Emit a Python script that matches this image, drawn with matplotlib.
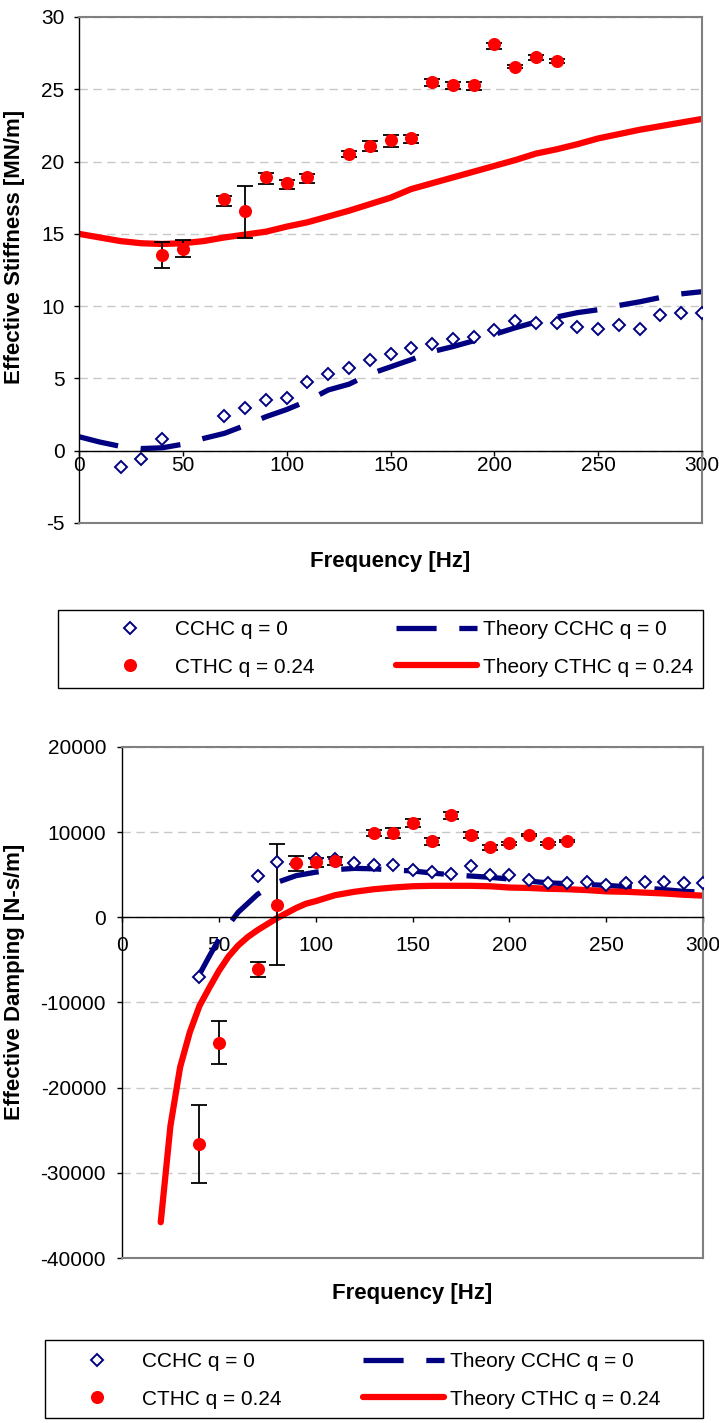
import matplotlib
matplotlib.use("Agg")
import matplotlib.pyplot as plt
from matplotlib.patches import Rectangle

plt.rcParams['font.family'] = ['Liberation Sans', 'DejaVu Sans']
plt.rcParams['axes.unicode_minus'] = False

# ---------------- data ----------------
# Top chart: effective stiffness [MN/m]
stiff_cchc_freq = [20, 30, 40, 70, 80, 90, 100, 110, 120, 130, 140, 150, 160, 170, 180,
                   190, 200, 210, 220, 230, 240, 250, 260, 270, 280, 290, 300]
stiff_cchc = [-1.1, -0.55, 0.83, 2.42, 2.97, 3.53, 3.67, 4.77, 5.32, 5.74, 6.29, 6.71, 7.12,
              7.4, 7.75, 7.9, 8.37, 9.0, 8.85, 8.8, 8.58, 8.44, 8.71, 8.44, 9.4, 9.55, 9.55]

cthc_freq = [40, 50, 70, 80, 90, 100, 110, 130, 140, 150, 160, 170, 180, 190, 200, 210, 220, 230]
stiff_cthc = [13.55, 13.97, 17.4, 16.6, 18.9, 18.5, 18.9, 20.54, 21.1, 21.5, 21.65, 25.5,
              25.3, 25.3, 28.1, 26.55, 27.25, 26.97]
stiff_err_lo = [0.9, 0.6, 0.45, 1.9, 0.45, 0.4, 0.35, 0.2, 0.35, 0.5, 0.35, 0.3, 0.25, 0.35,
                0.3, 0.1, 0.25, 0.15]
stiff_err_hi = [0.9, 0.6, 0.2, 1.7, 0.3, 0.25, 0.25, 0.2, 0.35, 0.35, 0.2, 0.2, 0.2, 0.2,
                0.1, 0.1, 0.15, 0.1]

theory_stiff_freq = [0, 10, 20, 30, 40, 50, 60, 70, 80, 90, 100, 110, 120, 130, 140, 150,
                     160, 170, 180, 190, 200, 210, 220, 230, 240, 250, 260, 270, 280, 290, 300]
theory_stiff_cchc = [0.97, 0.6, 0.3, 0.15, 0.2, 0.45, 0.85, 1.2, 1.75, 2.35, 2.85, 3.45, 4.2,
                     4.6, 5.3, 5.8, 6.3, 6.85, 7.2, 7.6, 8.05, 8.5, 8.9, 9.25, 9.55, 9.75,
                     10.05, 10.3, 10.6, 10.85, 11.0]
theory_stiff_cthc = [15.0, 14.75, 14.5, 14.35, 14.3, 14.35, 14.5, 14.75, 14.95, 15.15, 15.5,
                     15.8, 16.2, 16.6, 17.05, 17.5, 18.1, 18.5, 18.9, 19.3, 19.7, 20.1, 20.55,
                     20.85, 21.2, 21.6, 21.9, 22.2, 22.45, 22.7, 22.95]

# Bottom chart: effective damping [N-s/m]
damp_cchc_freq = [40, 70, 80, 90, 100, 110, 120, 130, 140, 150, 160, 170, 180, 190, 200,
                  210, 220, 230, 240, 250, 260, 270, 280, 290, 300]
damp_cchc = [-7000, 4820, 6470, 6300, 6900, 6800, 6350, 6100, 6100, 5600, 5300, 5050, 6000,
             4950, 4950, 4400, 4000, 4000, 4100, 3750, 4000, 4200, 4200, 4000, 4000]

damp_cthc = [-26600, -14700, -6100, 1500, 6350, 6450, 6600, 9900, 9900, 11050, 8950, 12000,
             9650, 8250, 8700, 9650, 8700, 8950]
damp_err = [4550, 2500, 850, 7100, 900, 500, 450, 300, 600, 500, 400, 400, 350, 300, 150,
            100, 150, 150]

theory_damp_cchc_freq = [40, 45, 50, 55, 60, 70, 80, 90, 100, 110, 120, 130, 140, 150, 160,
                         170, 180, 190, 200, 210, 220, 230, 240, 250, 260, 270, 280, 290, 300]
theory_damp_cchc = [-6700, -4600, -2600, -900, 600, 2700, 4100, 4900, 5300, 5600, 5750, 5700,
                    5550, 5450, 5200, 5000, 4850, 4700, 4500, 4250, 4050, 3950, 3850, 3750,
                    3600, 3450, 3250, 3050, 2950]
theory_damp_cthc_freq = [20, 25, 30, 35, 40, 45, 50, 55, 60, 65, 70, 75, 80, 85, 90, 95, 100,
                         110, 120, 130, 140, 150, 160, 170, 180, 190, 200, 210, 220, 230, 240,
                         250, 260, 270, 280, 290, 300]
theory_damp_cthc = [-35800, -24500, -17600, -13500, -10400, -8300, -6300, -4600, -3300, -2300,
                    -1500, -800, -100, 500, 1100, 1600, 1900, 2600, 3000, 3300, 3500, 3650,
                    3700, 3700, 3700, 3650, 3500, 3450, 3350, 3300, 3200, 3050, 3000, 2900,
                    2800, 2650, 2550]

labels = ["CCHC q = 0", "CTHC q = 0.24", "Theory CCHC q = 0", "Theory CTHC q = 0.24"]

# ---------------- styling ----------------
W, H = 719, 1423
NAVY = '#000080'
RED = '#FF0000'
GRAY = '#808080'
FS = 15

fig = plt.figure(figsize=(W / 100, H / 100), dpi=100)


def rect(l, t, r, b):
    return [l / W, 1 - b / H, (r - l) / W, (b - t) / H]


def style_axes(ax, xpad, ypad):
    ax.set_xlim(0, 300)
    ax.spines['bottom'].set_position(('data', 0))
    ax.spines['bottom'].set_color('black')
    ax.spines['bottom'].set_linewidth(1.0)
    ax.spines['left'].set_color('black')
    ax.spines['left'].set_linewidth(1.0)
    for s in ('top', 'right'):
        ax.spines[s].set_color(GRAY)
        ax.spines[s].set_linewidth(1.5)
    ax.plot([0, 1], [0, 0], transform=ax.transAxes, color=GRAY, lw=1.5, clip_on=False,
            zorder=5)
    ax.set_xticks([0, 50, 100, 150, 200, 250, 300])
    ax.tick_params(axis='x', direction='out', length=3.5, width=1, pad=xpad, labelsize=FS)
    ax.tick_params(axis='y', direction='out', length=3.5, width=1, pad=ypad, labelsize=FS)
    ax.yaxis.grid(True, color='#c8c8c8', linestyle=(0, (6, 4)), linewidth=1.0)
    ax.set_axisbelow(True)


def make_legend(handles, box, anchor_xy):
    l, t, r, b = box
    fig.patches.append(Rectangle((l / W, 1 - b / H), (r - l) / W, (b - t) / H,
                                 transform=fig.transFigure, fill=False, edgecolor='black',
                                 linewidth=1.0))
    fig.legend(handles, labels, loc='upper left',
               bbox_to_anchor=(anchor_xy[0] / W, 1 - anchor_xy[1] / H),
               ncol=2, frameon=False, fontsize=FS, borderpad=0, borderaxespad=0,
               handlelength=3.9, handletextpad=0.25, columnspacing=3.9,
               labelspacing=0.9)


# ---------------- top chart ----------------
ax1 = fig.add_axes(rect(79, 17, 702, 523))
style_axes(ax1, xpad=0.5, ypad=7)
ax1.set_ylim(-5, 30)
ax1.set_yticks([-5, 0, 5, 10, 15, 20, 25, 30])

l_tc, = ax1.plot(theory_stiff_freq, theory_stiff_cchc, color=NAVY, lw=3.8,
                 linestyle=(0, (7.6, 4.3)), dash_capstyle='butt', zorder=2)
l_tt, = ax1.plot(theory_stiff_freq, theory_stiff_cthc, color=RED, lw=4.5,
                 solid_capstyle='round', zorder=2)
ax1.errorbar(cthc_freq, stiff_cthc, yerr=[stiff_err_lo, stiff_err_hi], fmt='none',
             ecolor='black', elinewidth=1.3, capsize=5.5, capthick=1.3, zorder=3)
m_c, = ax1.plot(stiff_cchc_freq, stiff_cchc, linestyle='none', marker='D', ms=6,
                mfc='white', mec=NAVY, mew=1.4, zorder=4)
m_t, = ax1.plot(cthc_freq, stiff_cthc, linestyle='none', marker='o', ms=8.4,
                mfc=RED, mec=RED, zorder=4)

fig.text(15 / W, 1 - 247 / H, "Effective Stiffness [MN/m]", rotation=90, fontsize=16,
         fontweight='bold', ha='center', va='center')
fig.text(390 / W, 1 - 562 / H, "Frequency [Hz]", fontsize=16, fontweight='bold',
         ha='center', va='center')

make_legend([m_c, m_t, l_tc, l_tt], (58, 610, 703, 688), (89, 620))

# ---------------- bottom chart ----------------
ax2 = fig.add_axes(rect(122, 747, 703, 1258))
style_axes(ax2, xpad=10, ypad=8)
ax2.set_ylim(-40000, 20000)
ax2.set_yticks([-40000, -30000, -20000, -10000, 0, 10000, 20000])

b_tc, = ax2.plot(theory_damp_cchc_freq, theory_damp_cchc, color=NAVY, lw=3.8,
                 linestyle=(0, (7.6, 4.3)), dash_capstyle='butt', zorder=2)
b_tt, = ax2.plot(theory_damp_cthc_freq, theory_damp_cthc, color=RED, lw=4.5,
                 solid_capstyle='round', zorder=2)
ax2.errorbar(cthc_freq, damp_cthc, yerr=damp_err, fmt='none', ecolor='black',
             elinewidth=1.3, capsize=5.5, capthick=1.3, zorder=3)
bm_c, = ax2.plot(damp_cchc_freq, damp_cchc, linestyle='none', marker='D', ms=6,
                 mfc='white', mec=NAVY, mew=1.4, zorder=4)
bm_t, = ax2.plot(cthc_freq, damp_cthc, linestyle='none', marker='o', ms=8.4,
                 mfc=RED, mec=RED, zorder=4)

fig.text(15 / W, 1 - 982 / H, "Effective Damping [N-s/m]", rotation=90, fontsize=16,
         fontweight='bold', ha='center', va='center')
fig.text(412 / W, 1 - 1294 / H, "Frequency [Hz]", fontsize=16, fontweight='bold',
         ha='center', va='center')

make_legend([bm_c, bm_t, b_tc, b_tt], (45, 1340, 703, 1418), (56, 1352))

fig.savefig("out.png", dpi=100)
